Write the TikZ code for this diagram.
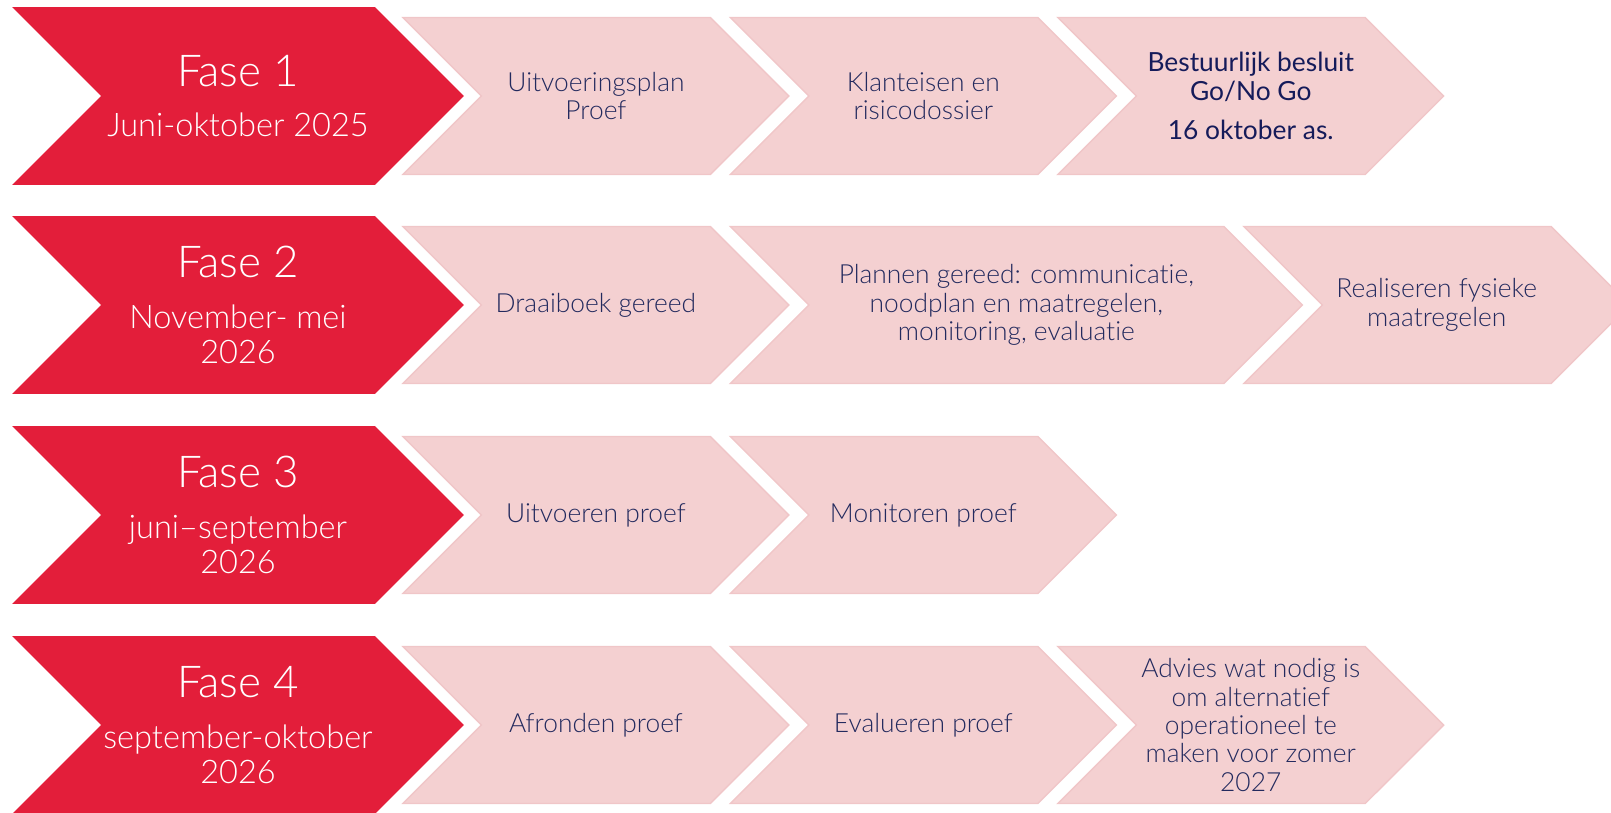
\documentclass[tikz,border=0pt]{standalone}
\usepackage{fontspec}
\setmainfont{Lato Light}[Ligatures=NoCommon]
\newfontfamily\latovol{Lato}[Ligatures=NoCommon]
\usetikzlibrary{positioning,shapes.symbols}
\definecolor{faserood}{HTML}{E31E3A}
\definecolor{staproze}{HTML}{F4D0D1}
\definecolor{staprand}{HTML}{F0C6C8}
\definecolor{stapblauw}{HTML}{232A5E}
\definecolor{besluitblauw}{HTML}{151B5A}

\tikzset{
  pijl/.style={shape=signal, signal from=west, signal to=east,
    signal pointer angle=90, inner sep=0pt, align=center},
  fasepijl/.style={pijl, fill=faserood, text=white,
    minimum width=9.04cm, minimum height=3.56cm,
    font=\fontsize{18.5}{20}\selectfont},
  stappijl/.style={pijl, fill=staproze, draw=staprand, line width=0.8pt,
    text=stapblauw, minimum width=7.72cm, minimum height=3.14cm,
    font=\fontsize{15}{16.2}\selectfont},
}
\newcommand{\fasenaam}[1]{{\fontsize{25}{28}\selectfont #1}}

\begin{document}
\begin{tikzpicture}[x=0.02cm, y=-0.02cm]
    \useasboundingbox (0,0) rectangle (1611,812);
    % Fase 1
    \node [fasepijl] (Fase1) at (238,96) {\fasenaam{Fase 1}\\[8pt] Juni-oktober 2025};
    \node [stappijl, right=0.32cm of Fase1] (Stap11) {Uitvoeringsplan\\Proef};
    \node [stappijl, right=0.36cm of Stap11] (Stap12) {Klanteisen en\\risicodossier};
    \node [stappijl, right=0.36cm of Stap12, text=besluitblauw] (Stap13)
        {\latovol Bestuurlijk besluit\\\latovol Go/No Go\\[6pt]\latovol 16 oktober as.};
    % Fase 2
    \node [fasepijl] (Fase2) at (238,305) {\fasenaam{Fase 2}\\[9pt] November- mei\\2026};
    \node [stappijl, right=0.32cm of Fase2] (Stap21) {Draaiboek gereed};
    \node [stappijl, minimum width=11.44cm, right=0.36cm of Stap21] (Stap22)
        {Plannen gereed: communicatie,\\noodplan en maatregelen,\\monitoring, evaluatie};
    \node [stappijl, right=0.36cm of Stap22] (Stap23) {Realiseren fysieke\\maatregelen};
    % Fase 3
    \node [fasepijl] (Fase3) at (238,515) {\fasenaam{Fase 3}\\[9pt] juni--september\\2026};
    \node [stappijl, right=0.32cm of Fase3] (Stap31) {Uitvoeren proef};
    \node [stappijl, right=0.36cm of Stap31] (Stap32) {Monitoren proef};
    % Fase 4
    \node [fasepijl] (Fase4) at (238,725) {\fasenaam{Fase 4}\\[9pt] september-oktober\\2026};
    \node [stappijl, right=0.32cm of Fase4] (Stap41) {Afronden proef};
    \node [stappijl, right=0.36cm of Stap41] (Stap42) {Evalueren proef};
    \node [stappijl, right=0.36cm of Stap42] (Stap43)
        {Advies wat nodig is\\om alternatief\\operationeel te\\maken voor zomer\\2027};
\end{tikzpicture}
\end{document}
